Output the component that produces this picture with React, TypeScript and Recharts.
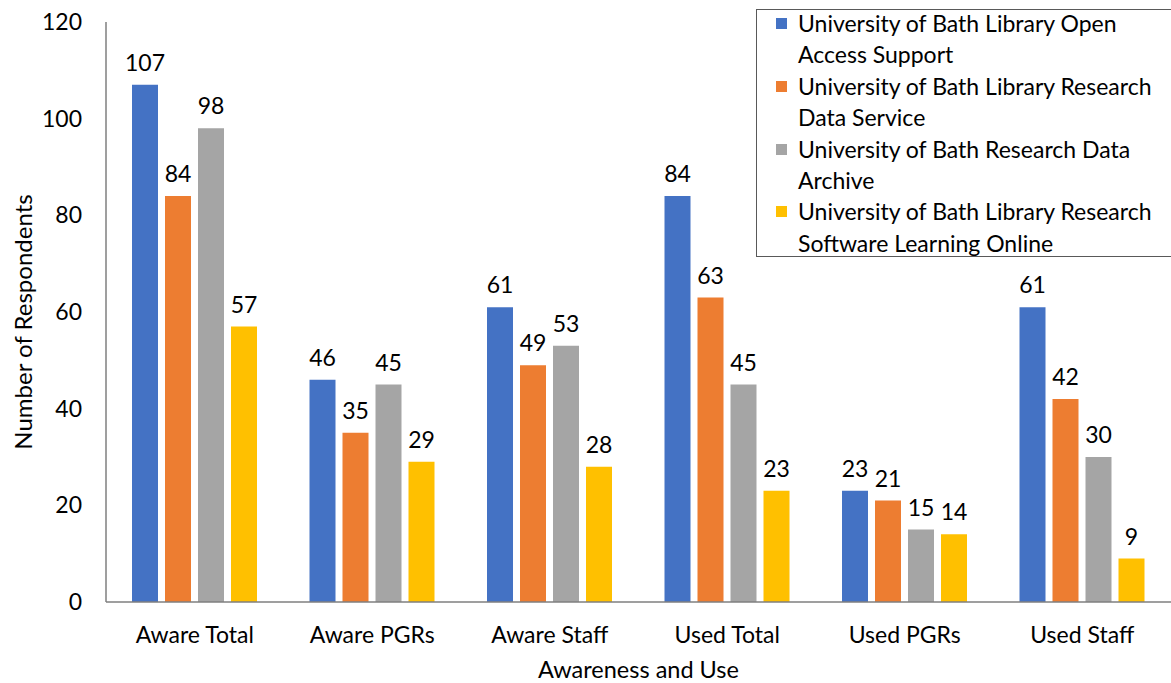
import { BarChart, Bar, XAxis, YAxis, LabelList, Label } from 'recharts'

const categories = ['Aware Total', 'Aware PGRs', 'Aware Staff', 'Used Total', 'Used PGRs', 'Used Staff']

const seriesNames = [
  'University of Bath Library Open Access Support',
  'University of Bath Library Research Data Service',
  'University of Bath Research Data Archive',
  'University of Bath Library Research Software Learning Online',
]

const openAccess = [107, 46, 61, 84, 23, 61]
const dataService = [84, 35, 49, 63, 21, 42]
const dataArchive = [98, 45, 53, 45, 15, 30]
const softwareLearning = [57, 29, 28, 23, 14, 9]

const yTicks = [0, 20, 40, 60, 80, 100, 120]

const COLORS = ['#4472C4', '#ED7D31', '#A5A5A5', '#FFC000']
const FONT = 'Lato, "Open Sans", sans-serif'

const data = categories.map((name, i) => ({
  name,
  s0: openAccess[i],
  s1: dataService[i],
  s2: dataArchive[i],
  s3: softwareLearning[i],
}))

// legend drawn as an overlay box, like the Excel one (it sits over the plot)
function LegendBox() {
  return (
    <div
      style={{
        position: 'absolute',
        left: 756,
        top: 9,
        width: 430,
        height: 248,
        border: '1px solid #595959',
        background: '#fff',
        fontFamily: FONT,
        fontSize: 23,
        color: '#000',
        lineHeight: '31.4px',
        boxSizing: 'border-box',
      }}
    >
      <div style={{ marginTop: -2, marginLeft: 19, width: 380 }}>
        {seriesNames.map((n, i) => (
          <div key={n} style={{ display: 'flex', alignItems: 'flex-start' }}>
            <span
              style={{
                display: 'inline-block',
                width: 11,
                height: 11,
                background: COLORS[i],
                marginTop: 10,
                marginRight: 11,
                flexShrink: 0,
              }}
            />
            <span style={{ width: 365 }}>{n}</span>
          </div>
        ))}
      </div>
    </div>
  )
}

const YTitle = () => (
  <text
    transform="translate(32, 322) rotate(-90)"
    textAnchor="middle"
    fill="#000"
    fontSize={24}
    fontFamily={FONT}
  >
    Number of Respondents
  </text>
)

export default function App() {
  return (
    <div
      style={{
        position: 'absolute',
        left: 0,
        top: 0,
        width: 1171,
        height: 683,
        overflow: 'hidden',
        background: '#fff',
      }}
    >
      <BarChart
        width={1171}
        height={683}
        data={data}
        margin={{ top: 22, right: 0, bottom: 21, left: 0 }}
        barSize={26}
        barGap={7}
        style={{ fontFamily: FONT }}
      >
        <XAxis
          dataKey="name"
          tickLine={false}
          axisLine={{ stroke: '#7f7f7f', strokeWidth: 1.5 }}
          tick={{ fill: '#000', fontSize: 23 }}
          tickMargin={19}
          height={60}
          interval={0}
        >
          <Label value="Awareness and Use" position="insideBottom" offset={-16} fill="#000" fontSize={23.5} />
        </XAxis>
        <YAxis
          domain={[0, 120]}
          ticks={yTicks}
          tickLine={false}
          axisLine={{ stroke: '#7f7f7f', strokeWidth: 1.5 }}
          tick={{ fill: '#000', fontSize: 23 }}
          tickMargin={18}
          width={106}
        >
          <Label content={YTitle} />
        </YAxis>
        {['s0', 's1', 's2', 's3'].map((k, i) => (
          <Bar key={k} dataKey={k} name={seriesNames[i]} fill={COLORS[i]} isAnimationActive={false}>
            <LabelList dataKey={k} position="top" offset={14} fill="#000" fontSize={23} />
          </Bar>
        ))}
      </BarChart>
      <LegendBox />
    </div>
  )
}
